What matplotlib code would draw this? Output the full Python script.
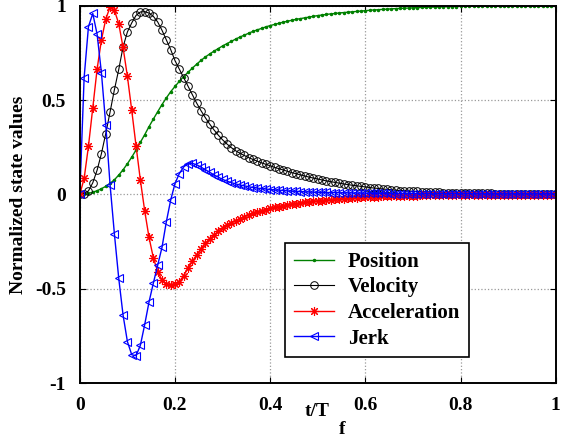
import numpy as np
import matplotlib
matplotlib.use("Agg")
import matplotlib.pyplot as plt

plt.rcParams['font.family'] = ['Liberation Serif', 'DejaVu Serif']
plt.rcParams['font.weight'] = 'bold'

# normalized time grid t/Tf
t = np.linspace(0, 1, 111)

position = [
    0, 0.002, 0.006, 0.012, 0.02, 0.031, 0.043, 0.059, 0.078, 0.103,
    0.131, 0.163, 0.198, 0.236, 0.277, 0.317, 0.36, 0.4, 0.439, 0.477,
    0.512, 0.545, 0.573, 0.6, 0.625, 0.648, 0.67, 0.691, 0.711, 0.729,
    0.745, 0.76, 0.774, 0.788, 0.8, 0.812, 0.824, 0.835, 0.845, 0.855,
    0.865, 0.873, 0.881, 0.889, 0.896, 0.902, 0.908, 0.914, 0.919, 0.924,
    0.929, 0.933, 0.937, 0.941, 0.945, 0.949, 0.952, 0.955, 0.958, 0.96,
    0.963, 0.965, 0.967, 0.969, 0.971, 0.973, 0.975, 0.977, 0.979, 0.98,
    0.982, 0.983, 0.985, 0.986, 0.987, 0.988, 0.989, 0.99, 0.991, 0.992,
    0.993, 0.994, 0.994, 0.995, 0.996, 0.996, 0.997, 0.997, 0.998, 0.998,
    0.998, 0.999, 0.999, 0.999, 0.999, 0.999, 1.0, 1.0, 1.0, 1.0,
    1.0, 1.0, 1.0, 1.0, 1.0, 1.0, 1.0, 1.0, 1.0, 1.0, 1.0]

velocity = [
    0, 0.005, 0.019, 0.062, 0.129, 0.217, 0.323, 0.438, 0.556, 0.663,
    0.783, 0.862, 0.91, 0.95, 0.968, 0.97, 0.962, 0.945, 0.915, 0.871,
    0.82, 0.769, 0.71, 0.665, 0.62, 0.575, 0.53, 0.485, 0.445, 0.408,
    0.374, 0.343, 0.315, 0.29, 0.268, 0.249, 0.232, 0.219, 0.207, 0.196,
    0.186, 0.177, 0.168, 0.16, 0.152, 0.144, 0.137, 0.13, 0.123, 0.116,
    0.11, 0.104, 0.098, 0.092, 0.087, 0.082, 0.077, 0.072, 0.068, 0.064,
    0.06, 0.056, 0.052, 0.049, 0.046, 0.043, 0.04, 0.037, 0.034, 0.032,
    0.029, 0.027, 0.025, 0.023, 0.021, 0.02, 0.018, 0.017, 0.016, 0.015,
    0.014, 0.013, 0.012, 0.011, 0.01, 0.0095, 0.009, 0.0085, 0.008, 0.0075,
    0.007, 0.0068, 0.0065, 0.006, 0.0058, 0.0055, 0.0052, 0.005, 0.0048, 0.0045,
    0.0043, 0.004, 0.0038, 0.0036, 0.0034, 0.0032, 0.003, 0.0029, 0.0028, 0.0027, 0.0026]

acceleration = [
    0, 0.085, 0.256, 0.46, 0.665, 0.82, 0.93, 0.995, 0.977, 0.906,
    0.78, 0.627, 0.447, 0.258, 0.076, -0.087, -0.228, -0.336, -0.41, -0.454,
    -0.475, -0.48, -0.475, -0.463, -0.43, -0.392, -0.355, -0.32, -0.29, -0.26,
    -0.235, -0.215, -0.195, -0.178, -0.164, -0.151, -0.139, -0.128, -0.118, -0.109,
    -0.1, -0.093, -0.086, -0.08, -0.074, -0.069, -0.064, -0.059, -0.055, -0.051,
    -0.048, -0.045, -0.042, -0.039, -0.036, -0.034, -0.032, -0.03, -0.028, -0.026,
    -0.024, -0.022, -0.02, -0.019, -0.017, -0.016, -0.014, -0.013, -0.012, -0.011,
    -0.01, -0.01, -0.009, -0.008, -0.008, -0.007, -0.007, -0.006, -0.006, -0.005,
    -0.005, -0.005, -0.004, -0.004, -0.004, -0.004, -0.003, -0.003, -0.003, -0.003,
    -0.003, -0.002, -0.002, -0.002, -0.002, -0.002, -0.002, -0.002, -0.002, -0.002,
    -0.002, -0.002, -0.002, -0.002, -0.001, -0.001, -0.001, -0.001, -0.001, -0.001, -0.001]

jerk = [
    0, 0.62, 0.89, 0.96, 0.85, 0.645, 0.37, 0.05, -0.21, -0.445,
    -0.64, -0.78, -0.85, -0.855, -0.8, -0.69, -0.57, -0.47, -0.375, -0.28,
    -0.145, -0.03, 0.058, 0.111, 0.146, 0.164, 0.165, 0.158, 0.145, 0.132,
    0.118, 0.104, 0.092, 0.08, 0.071, 0.063, 0.056, 0.05, 0.046, 0.041,
    0.037, 0.034, 0.031, 0.029, 0.026, 0.024, 0.023, 0.021, 0.019, 0.018,
    0.017, 0.015, 0.014, 0.013, 0.012, 0.012, 0.011, 0.011, 0.01, 0.01,
    0.009, 0.009, 0.008, 0.008, 0.008, 0.007, 0.007, 0.007, 0.006, 0.006,
    0.006, 0.006, 0.005, 0.005, 0.005, 0.005, 0.005, 0.005, 0.004, 0.004,
    0.004, 0.004, 0.004, 0.004, 0.004, 0.004, 0.004, 0.004, 0.004, 0.004,
    0.004, 0.004, 0.003, 0.003, 0.003, 0.003, 0.003, 0.003, 0.003, 0.003,
    0.003, 0.003, 0.003, 0.003, 0.003, 0.003, 0.003, 0.003, 0.003, 0.003, 0.003]

fig = plt.figure(figsize=(5.7, 4.41), dpi=100)
ax = fig.add_axes([0.140, 0.1315, 0.835, 0.855])

# asterisk marker like matlab '*'
star = (8, 2, 0)

ax.plot(t, position, color='#008000', lw=1, marker='.', ms=3, label='Position')
ax.plot(t, velocity, color='k', lw=0.8, marker='o', ms=5.5, mfc='none', mew=0.7, label='Velocity')
ax.plot(t, acceleration, color='r', lw=1, marker=star, ms=6.5, mew=0.8, label='Acceleration')
ax.plot(t, jerk, color='b', lw=1, marker='<', ms=5.5, mfc='none', mew=0.8, label='Jerk')

ax.set_xlim(0, 1)
ax.set_ylim(-1, 1)
ax.set_xticks([0, 0.2, 0.4, 0.6, 0.8, 1])
ax.set_xticklabels(['0', '0.2', '0.4', '0.6', '0.8', '1'])
ax.set_yticks([-1, -0.5, 0, 0.5, 1])
ax.set_yticklabels(['-1', '-0.5', '0', '0.5', '1'])
ax.tick_params(direction='in', top=True, right=True, length=4, labelsize=14)
ax.tick_params(axis='x', pad=10)
ax.tick_params(axis='y', pad=10)
ax.grid(True, linestyle=':', color='0.6', lw=0.9)
for s in ax.spines.values():
    s.set_linewidth(1.4)

ax.set_ylabel('Normalized state values', fontsize=14, fontweight='bold', labelpad=6)
fig.text(0.557, 0.068, 't/T', fontsize=14, fontweight='bold', ha='center', va='center')
fig.text(0.601, 0.025, 'f', fontsize=14, fontweight='bold', ha='center', va='center')

leg = ax.legend(loc='upper left', bbox_to_anchor=(0.432, 0.371), fontsize=15,
                handlelength=1.9, fancybox=False, edgecolor='k', framealpha=1,
                borderpad=0.42, labelspacing=0.27, handletextpad=0.67, borderaxespad=0)
leg.get_frame().set_linewidth(1.2)

fig.savefig('out.png', dpi=100)
